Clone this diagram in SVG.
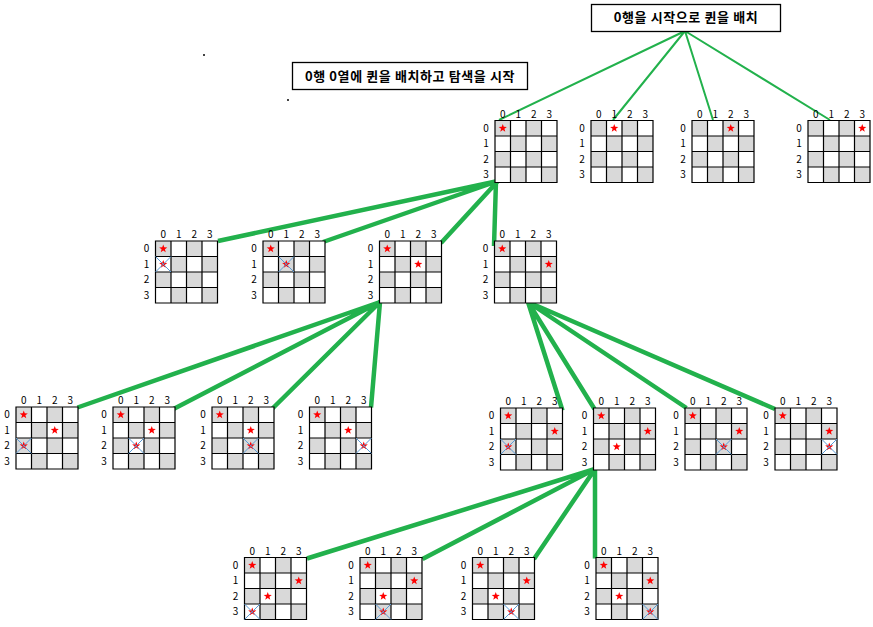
<svg xmlns="http://www.w3.org/2000/svg" width="873" height="627" viewBox="0 0 873 627">
<style>
.lb{font-family:"Noto Sans CJK KR","Noto Sans",sans-serif;font-size:10px;text-anchor:middle;fill:#000}
.t{font-family:"Noto Sans CJK KR",sans-serif;font-weight:bold;font-size:13px;letter-spacing:0.6px;text-anchor:middle;fill:#000}
.box{fill:#fff;stroke:#000;stroke-width:1.3}
.l1{stroke:#22b14c;stroke-width:2;fill:none}
.l2{stroke:#22b14c;stroke-width:4.5;fill:none}
</style>
<defs>
<g id="bd">
<rect x="0" y="0" width="62" height="62" fill="#fff"/>
<g fill="#d9d9d9">
<rect x="0" y="0" width="15.5" height="15.5"/><rect x="31" y="0" width="15.5" height="15.5"/>
<rect x="15.5" y="15.5" width="15.5" height="15.5"/><rect x="46.5" y="15.5" width="15.5" height="15.5"/>
<rect x="0" y="31" width="15.5" height="15.5"/><rect x="31" y="31" width="15.5" height="15.5"/>
<rect x="15.5" y="46.5" width="15.5" height="15.5"/><rect x="46.5" y="46.5" width="15.5" height="15.5"/>
</g>
<path d="M0 0H62V62H0Z M15.5 0V62 M31 0V62 M46.5 0V62 M0 15.5H62 M0 31H62 M0 46.5H62" fill="none" stroke="#000" stroke-width="1.2"/>
</g>
<polygon id="st" fill="#ff0000" points="0,-4.3 1.03,-1.42 4.09,-1.33 1.66,0.54 2.53,3.48 0,1.75 -2.53,3.48 -1.66,0.54 -4.09,-1.33 -1.03,-1.42"/>
<path id="x" d="M0 0L15.5 15.5M15.5 0L0 15.5" fill="none" stroke="#5b9bd5" stroke-width="1"/>
</defs>
<rect width="873" height="627" fill="#fff"/>
<rect x="203" y="54" width="2" height="2" fill="#444"/>
<rect x="287" y="99" width="2" height="2" fill="#444"/>

<g id="connectors">
<path class="l1" d="M685 31L499 120M685 31L613 120M685 31L713 120M685 31L830 120"/>
<path class="l2" d="M498 181L218 241M498 181L323 242M498 181L441 243M496 181L494 246"/>
<path class="l2" d="M380 302L77.5 407.5M380 302L173.5 409M380 302L272.5 408.5M380 302L371 407.5"/>
<path class="l2" d="M528 302L562.5 410.5M528 302L594.5 409M528 302L686.5 408M528 302L775 409"/>
<path class="l2" d="M595 469L307 558.5M595 469L422.5 559M595 469L534 559M595 469L595 558.5"/>
</g>

<g id="root">
<rect class="box" x="591.5" y="4.5" width="189" height="27"/>
<text class="t" x="686" y="22">0행을 시작으로 퀸을 배치</text>
</g>
<g id="note">
<rect class="box" x="292.5" y="62.5" width="235" height="27"/>
<text class="t" x="410" y="80.5">0행 0열에 퀸을 배치하고 탐색을 시작</text>
</g>

<g id="t0" transform="translate(495,120.5)"><use href="#bd"/><text class="lb" x="7.75 23.25 38.75 54.25" y="-3">0123</text><text class="lb" x="-9 -9 -9 -9" y="11.25 26.75 42.25 57.75">0123</text>
<use href="#st" x="7.75" y="7.75"/></g>
<g id="t1" transform="translate(591,120.5)"><use href="#bd"/><text class="lb" x="7.75 23.25 38.75 54.25" y="-3">0123</text><text class="lb" x="-9 -9 -9 -9" y="11.25 26.75 42.25 57.75">0123</text>
<use href="#st" x="23.25" y="7.75"/></g>
<g id="t2" transform="translate(692,120.5)"><use href="#bd"/><text class="lb" x="7.75 23.25 38.75 54.25" y="-3">0123</text><text class="lb" x="-9 -9 -9 -9" y="11.25 26.75 42.25 57.75">0123</text>
<use href="#st" x="38.75" y="7.75"/></g>
<g id="t3" transform="translate(808,120.5)"><use href="#bd"/><text class="lb" x="7.75 23.25 38.75 54.25" y="-3">0123</text><text class="lb" x="-9 -9 -9 -9" y="11.25 26.75 42.25 57.75">0123</text>
<use href="#st" x="54.25" y="7.75"/></g>

<g id="a0" transform="translate(155.5,241)"><use href="#bd"/><text class="lb" x="7.75 23.25 38.75 54.25" y="-3">0123</text><text class="lb" x="-9 -9 -9 -9" y="11.25 26.75 42.25 57.75">0123</text>
<use href="#st" x="7.75" y="7.75"/><use href="#st" x="7.75" y="23.25"/><use href="#x" x="0" y="15.5"/></g>
<g id="a1" transform="translate(263,241)"><use href="#bd"/><text class="lb" x="7.75 23.25 38.75 54.25" y="-3">0123</text><text class="lb" x="-9 -9 -9 -9" y="11.25 26.75 42.25 57.75">0123</text>
<use href="#st" x="7.75" y="7.75"/><use href="#st" x="23.25" y="23.25"/><use href="#x" x="15.5" y="15.5"/></g>
<g id="a2" transform="translate(379.5,241)"><use href="#bd"/><text class="lb" x="7.75 23.25 38.75 54.25" y="-3">0123</text><text class="lb" x="-9 -9 -9 -9" y="11.25 26.75 42.25 57.75">0123</text>
<use href="#st" x="7.75" y="7.75"/><use href="#st" x="38.75" y="23.25"/></g>
<g id="a3" transform="translate(494.5,241)"><use href="#bd"/><text class="lb" x="7.75 23.25 38.75 54.25" y="-3">0123</text><text class="lb" x="-9 -9 -9 -9" y="11.25 26.75 42.25 57.75">0123</text>
<use href="#st" x="7.75" y="7.75"/><use href="#st" x="54.25" y="23.25"/></g>

<g id="b0" transform="translate(16,407)"><use href="#bd"/><text class="lb" x="7.75 23.25 38.75 54.25" y="-3">0123</text><text class="lb" x="-9 -9 -9 -9" y="11.25 26.75 42.25 57.75">0123</text>
<use href="#st" x="7.75" y="7.75"/><use href="#st" x="38.75" y="23.25"/><use href="#st" x="7.75" y="38.75"/><use href="#x" x="0" y="31"/></g>
<g id="b1" transform="translate(113,407)"><use href="#bd"/><text class="lb" x="7.75 23.25 38.75 54.25" y="-3">0123</text><text class="lb" x="-9 -9 -9 -9" y="11.25 26.75 42.25 57.75">0123</text>
<use href="#st" x="7.75" y="7.75"/><use href="#st" x="38.75" y="23.25"/><use href="#st" x="23.25" y="38.75"/><use href="#x" x="15.5" y="31"/></g>
<g id="b2" transform="translate(212,407)"><use href="#bd"/><text class="lb" x="7.75 23.25 38.75 54.25" y="-3">0123</text><text class="lb" x="-9 -9 -9 -9" y="11.25 26.75 42.25 57.75">0123</text>
<use href="#st" x="7.75" y="7.75"/><use href="#st" x="38.75" y="23.25"/><use href="#st" x="38.75" y="38.75"/><use href="#x" x="31" y="31"/></g>
<g id="b3" transform="translate(309.5,407)"><use href="#bd"/><text class="lb" x="7.75 23.25 38.75 54.25" y="-3">0123</text><text class="lb" x="-9 -9 -9 -9" y="11.25 26.75 42.25 57.75">0123</text>
<use href="#st" x="7.75" y="7.75"/><use href="#st" x="38.75" y="23.25"/><use href="#st" x="54.25" y="38.75"/><use href="#x" x="46.5" y="31"/></g>

<g id="c0" transform="translate(500.5,408)"><use href="#bd"/><text class="lb" x="7.75 23.25 38.75 54.25" y="-3">0123</text><text class="lb" x="-9 -9 -9 -9" y="11.25 26.75 42.25 57.75">0123</text>
<use href="#st" x="7.75" y="7.75"/><use href="#st" x="54.25" y="23.25"/><use href="#st" x="7.75" y="38.75"/><use href="#x" x="0" y="31"/></g>
<g id="c1" transform="translate(593.5,408)"><use href="#bd"/><text class="lb" x="7.75 23.25 38.75 54.25" y="-3">0123</text><text class="lb" x="-9 -9 -9 -9" y="11.25 26.75 42.25 57.75">0123</text>
<use href="#st" x="7.75" y="7.75"/><use href="#st" x="54.25" y="23.25"/><use href="#st" x="23.25" y="38.75"/></g>
<g id="c2" transform="translate(685,408)"><use href="#bd"/><text class="lb" x="7.75 23.25 38.75 54.25" y="-3">0123</text><text class="lb" x="-9 -9 -9 -9" y="11.25 26.75 42.25 57.75">0123</text>
<use href="#st" x="7.75" y="7.75"/><use href="#st" x="54.25" y="23.25"/><use href="#st" x="38.75" y="38.75"/><use href="#x" x="31" y="31"/></g>
<g id="c3" transform="translate(775,408)"><use href="#bd"/><text class="lb" x="7.75 23.25 38.75 54.25" y="-3">0123</text><text class="lb" x="-9 -9 -9 -9" y="11.25 26.75 42.25 57.75">0123</text>
<use href="#st" x="7.75" y="7.75"/><use href="#st" x="54.25" y="23.25"/><use href="#st" x="54.25" y="38.75"/><use href="#x" x="46.5" y="31"/></g>

<g id="d0" transform="translate(244.5,557.5)"><use href="#bd"/><text class="lb" x="7.75 23.25 38.75 54.25" y="-3">0123</text><text class="lb" x="-9 -9 -9 -9" y="11.25 26.75 42.25 57.75">0123</text>
<use href="#st" x="7.75" y="7.75"/><use href="#st" x="54.25" y="23.25"/><use href="#st" x="23.25" y="38.75"/><use href="#st" x="7.75" y="54.25"/><use href="#x" x="0" y="46.5"/></g>
<g id="d1" transform="translate(360,557.5)"><use href="#bd"/><text class="lb" x="7.75 23.25 38.75 54.25" y="-3">0123</text><text class="lb" x="-9 -9 -9 -9" y="11.25 26.75 42.25 57.75">0123</text>
<use href="#st" x="7.75" y="7.75"/><use href="#st" x="54.25" y="23.25"/><use href="#st" x="23.25" y="38.75"/><use href="#st" x="23.25" y="54.25"/><use href="#x" x="15.5" y="46.5"/></g>
<g id="d2" transform="translate(472.5,557.5)"><use href="#bd"/><text class="lb" x="7.75 23.25 38.75 54.25" y="-3">0123</text><text class="lb" x="-9 -9 -9 -9" y="11.25 26.75 42.25 57.75">0123</text>
<use href="#st" x="7.75" y="7.75"/><use href="#st" x="54.25" y="23.25"/><use href="#st" x="23.25" y="38.75"/><use href="#st" x="38.75" y="54.25"/><use href="#x" x="31" y="46.5"/></g>
<g id="d3" transform="translate(596,557.5)"><use href="#bd"/><text class="lb" x="7.75 23.25 38.75 54.25" y="-3">0123</text><text class="lb" x="-9 -9 -9 -9" y="11.25 26.75 42.25 57.75">0123</text>
<use href="#st" x="7.75" y="7.75"/><use href="#st" x="54.25" y="23.25"/><use href="#st" x="23.25" y="38.75"/><use href="#st" x="54.25" y="54.25"/><use href="#x" x="46.5" y="46.5"/></g>
</svg>
